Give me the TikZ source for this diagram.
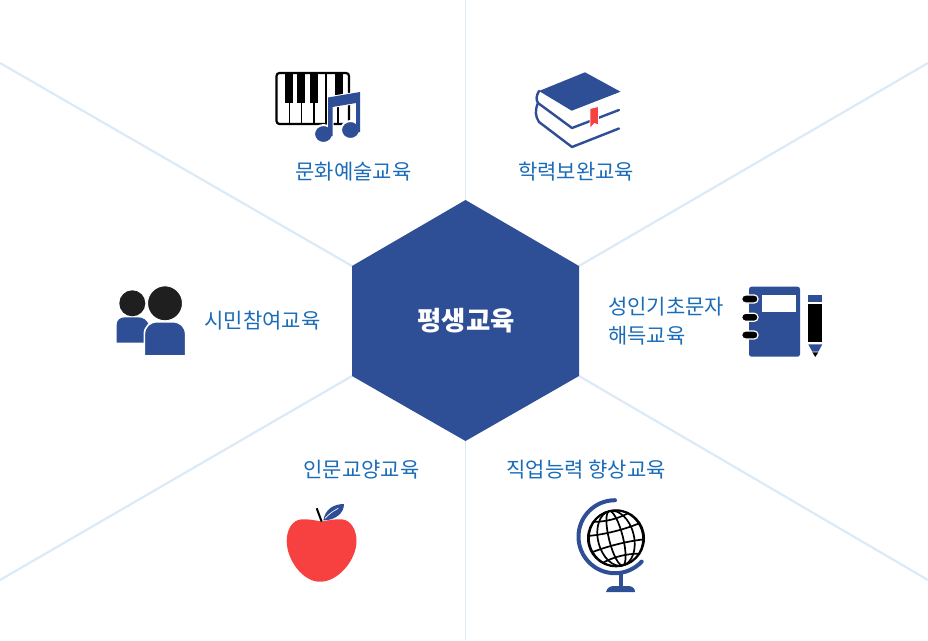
\documentclass[tikz,border=0pt]{standalone}
\usepackage{fontspec}
\setmainfont{Noto Sans CJK KR}
\usepackage{xcolor}
\usetikzlibrary{calc,positioning}
\definecolor{hexblue}{HTML}{2E4E96}
\definecolor{spokeblue}{HTML}{DCEAF7}
\definecolor{labelblue}{HTML}{1B6CB8}
\definecolor{applered}{HTML}{F74040}
\tikzset{
  spoke/.style={draw=spokeblue, line width=2.2pt},
  topic/.style={text=labelblue, font=\fontsize{21}{29}\selectfont, inner sep=0pt, align=left},
}
\begin{document}
\begin{tikzpicture}[x=1pt, y=-1pt]
    \useasboundingbox (0,0) rectangle (928,640);

    % Spokes
    \coordinate (hexT) at (465.5,200);
    \coordinate (hexUR) at (579,266);
    \coordinate (hexLR) at (579,376);
    \coordinate (hexB) at (465.5,441);
    \coordinate (hexLL) at (352,376);
    \coordinate (hexUL) at (352,266);
    \coordinate (endT) at (465.5,0);
    \coordinate (endUR) at (928,63);
    \coordinate (endLR) at (928,580);
    \coordinate (endB) at (465.5,640);
    \coordinate (endLL) at (0,580);
    \coordinate (endUL) at (0,63);
    \draw[spoke, line width=1.5pt] (hexT) -- (endT);
    \draw[spoke] (hexUR) -- (endUR);
    \draw[spoke] (hexLR) -- (endLR);
    \draw[spoke, line width=1.5pt] (hexB) -- (endB);
    \draw[spoke] (hexLL) -- (endLL);
    \draw[spoke] (hexUL) -- (endUL);

    % Hexagon
    \fill[hexblue] (hexT) -- (hexUR) -- (hexLR) -- (hexB) -- (hexLL) -- (hexUL) -- cycle;
    \node[text=white, font=\fontsize{26.4}{30}\selectfont\bfseries, inner sep=0pt] (center) at (466,321) {평생교육};

    % Labels
    \node[topic] (culture) at (353.5,172) {문화예술교육};
    \node[topic] (degree) at (576,172) {학력보완교육};
    \node[topic, anchor=west] (literacy) at (608,321.5) {성인기초문자\\해득교육};
    \node[topic] (citizen) at (262.5,321) {시민참여교육};
    \node[topic] (humanities) at (361.5,470) {인문교양교육};
    \node[topic] (career) at (586,470) {직업능력 향상교육};

    % Piano
    \draw[black, line width=2.2pt, rounded corners=3pt, fill=white] (276.5,73) rectangle (349,124);
    \foreach \k in {289.5,301.5,314,326,338} \draw[black, line width=1.4pt] (\k,73) -- (\k,124);
    \foreach \k in {285,297,310,335} \fill[black] (\k,73) rectangle (\k+8,103);
    \draw[white, line width=2pt, fill=hexblue] (328,97.5) -- (360,92) -- (360,130) -- (356,130) -- (356,103) -- (332.5,107) -- (332.5,134) -- (328,134) -- cycle;
    \draw[white, line width=2pt, fill=hexblue] (323.5,134) ellipse (9.5 and 9);
    \draw[white, line width=2pt, fill=hexblue] (350.5,130) ellipse (9.5 and 9);
    \fill[hexblue] (328,97.5) -- (360,92) -- (360,132) -- (356,132) -- (356,103) -- (332.5,107) -- (332.5,136) -- (328,136) -- cycle;

    % Book
    \fill[hexblue] (585,72.3) -- (620.5,91.7) -- (571.7,110.7) -- (539,91) -- cycle;
    \draw[hexblue, line width=2.4pt, line join=round, line cap=round] (539,91) .. controls (536,96) and (536,100) .. (538,103) -- (572,128) -- (619,110);
    \draw[hexblue, line width=2.4pt, line join=round, line cap=round] (538,103) .. controls (535,110) and (535,116) .. (539,122) -- (572,147) -- (619,128.5);
    \draw[white, line width=0.8pt, fill=applered] (590,108.5) -- (598.5,106.5) -- (598.5,125) -- (594.5,123.5) -- (590,128.5) -- cycle;

    % Notebook
    \fill[hexblue, rounded corners=2.5pt] (749,286.7) rectangle (800,356.7);
    \fill[white] (761.7,295) rectangle (795.7,311.7);
    \foreach \r in {299,317.3,335} {
      \draw[white, line width=1.2pt, fill=black, rounded corners=3.8pt] (741.7,\r-4) rectangle (758,\r+4);
    }
    \fill[hexblue] (808.3,295) rectangle (822.3,302.3);
    \fill[black] (808.3,304.3) rectangle (822.3,341.7);
    \fill[hexblue] (808.3,344.3) -- (822.3,344.3) -- (818.3,351.7) -- (812.3,351.7) -- cycle;
    \fill[black] (812.3,352.3) -- (818.3,352.3) -- (815.3,356.9) -- cycle;

    % People
    \fill[hexblue] (116.7,342.7) -- (116.7,325) .. controls (116.7,320) and (120,317.3) .. (125,317.3) -- (138,317.3) .. controls (143,317.3) and (147,320) .. (149,325) -- (149,342.7) -- cycle;
    \fill[black!88] (132.3,303.3) circle (13);
    \draw[white, line width=1.6pt, fill=hexblue] (144.3,356) -- (144.3,335) .. controls (144.3,326) and (150,321.7) .. (158,321.7) -- (172,321.7) .. controls (180,321.7) and (185.7,326) .. (185.7,335) -- (185.7,356) -- cycle;
    \draw[white, line width=1pt, fill=black!88] (165,303.3) circle (17.5);
    \fill[white] (140,355.2) rectangle (190,358);

    % Apple
    \fill[applered] (321.7,521.7) .. controls (314,520) and (308,519) .. (301.7,519.3)
      .. controls (292,520) and (286.7,530) .. (286.7,541)
      .. controls (286.7,560) and (303,582) .. (320,581.7)
      .. controls (338,582) and (356.5,560) .. (356.5,541)
      .. controls (356.5,530) and (351,520) .. (341.7,519.3)
      .. controls (335,519) and (328,520) .. (321.7,521.7) -- cycle;
    \draw[black, line width=2pt] (316.7,508.3) -- (321.7,521.7);
    \fill[hexblue] (323.3,520.5) .. controls (325,509) and (334,504) .. (344,504)
      .. controls (344,513) and (336,520) .. (323.3,520.5) -- cycle;
    \draw[white, line width=0.7pt] (325,518.3) .. controls (329,514) and (333,511) .. (338.3,508.3);

    % Globe
    \draw[hexblue, line width=4pt, line cap=round] (615,500.2) arc (-90:-317:36.5);
    \fill[hexblue] (619.3,572) rectangle (622.7,588);
    \fill[hexblue] (606,592) .. controls (607,588) and (610,586) .. (614,586) -- (628,586) .. controls (632,586) and (635,588) .. (635,592) -- cycle;
    \begin{scope}[shift={(616,538.3)}, rotate=14]
      \clip (0,0) circle (28.6);
      \foreach \wd in {7,18,27} \draw[black, line width=1.7pt] (0,0) ellipse [x radius=\wd, y radius=28];
      \foreach \h in {-19,-7,6,18} \draw[black, line width=1.7pt] (-29,\h+\h*0.35) .. controls (-12,\h-\h*0.1) and (12,\h-\h*0.1) .. (29,\h+\h*0.35);
    \end{scope}
    \draw[black, line width=2pt] (616,538.3) circle (28);
\end{tikzpicture}
\end{document}
